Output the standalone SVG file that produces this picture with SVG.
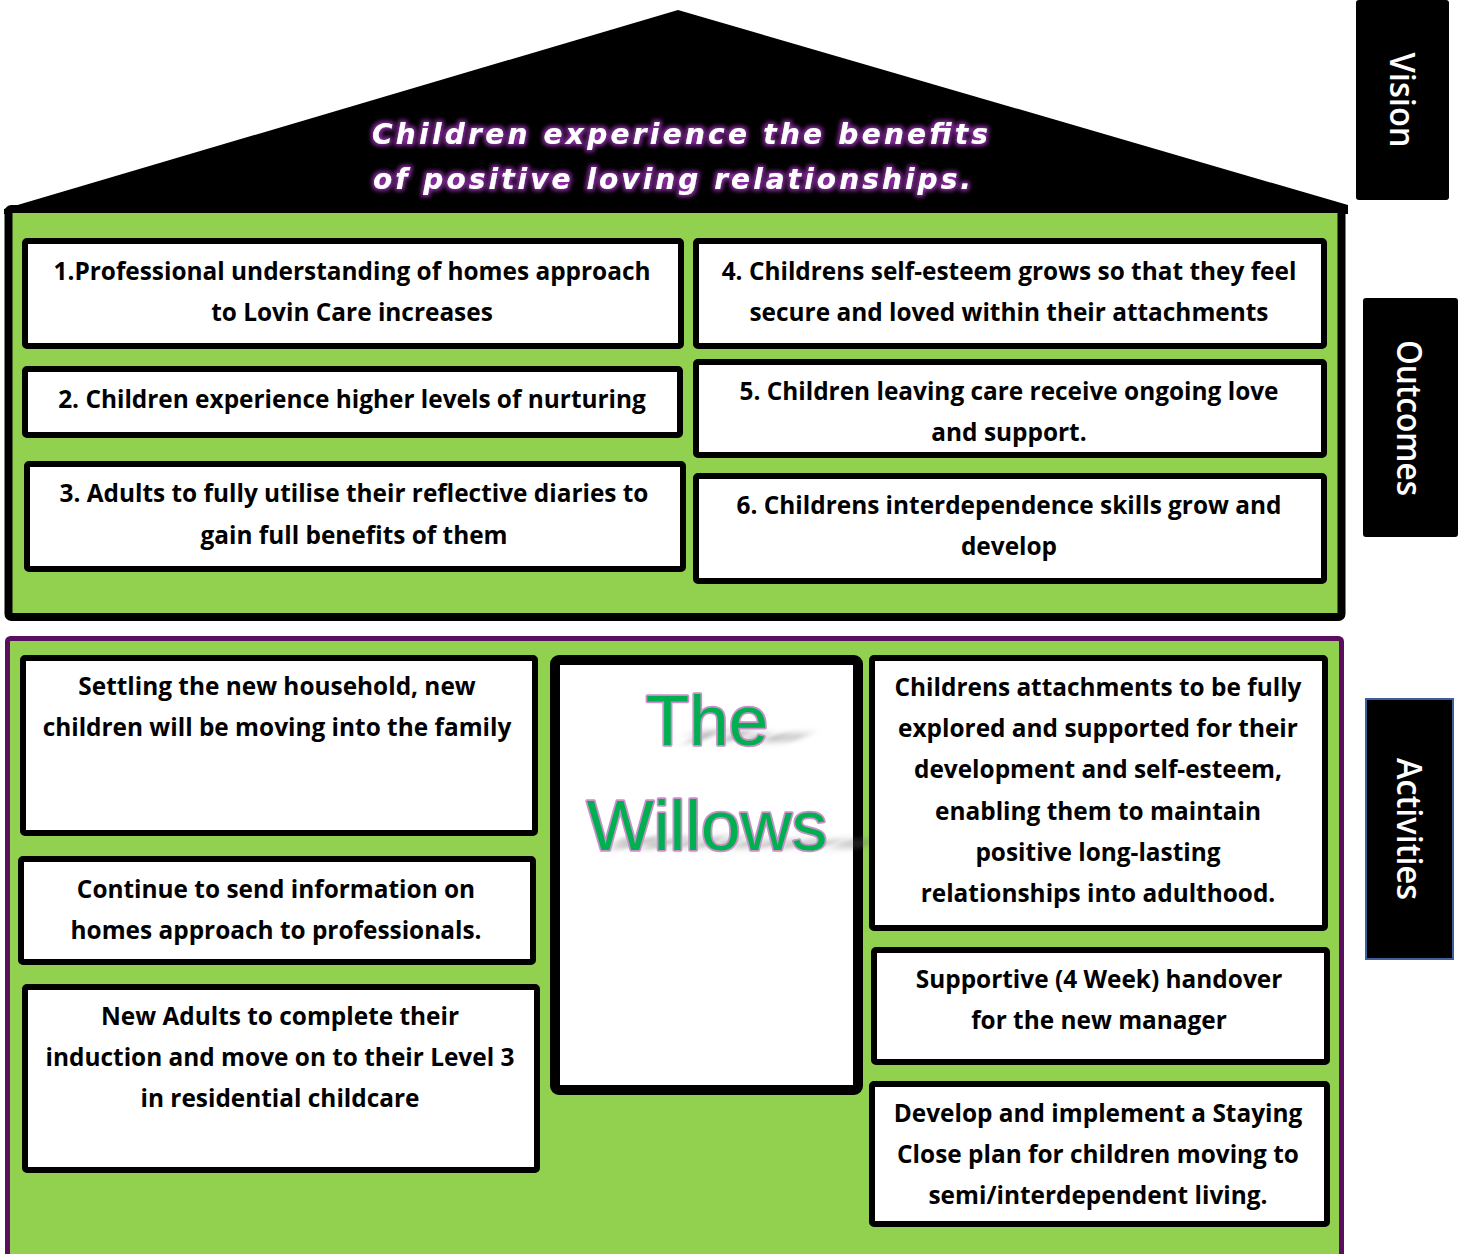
<svg xmlns="http://www.w3.org/2000/svg" width="1459" height="1254" viewBox="0 0 1459 1254">
<defs>
<style>
.box{fill:#fff;stroke:#000;stroke-width:6}
.t{font-family:"Open Sans","Liberation Sans",Arial,sans-serif;font-weight:bold;font-size:24.4px;fill:#000;text-anchor:middle}
.side{fill:#000}
.st{font-family:"Open Sans","Liberation Sans",sans-serif;font-weight:600;font-size:34px;fill:#fff;text-anchor:middle}
.vis{font-family:"DejaVu Sans",sans-serif;font-weight:bold;font-style:italic;font-size:28px;fill:#fff;text-anchor:middle}
.wil{font-family:"Liberation Sans",Arial,sans-serif;font-size:71px;fill:#00B050;stroke:#C990C9;stroke-width:3.5;paint-order:stroke;stroke-linejoin:round;text-anchor:middle}
.sh{font-family:"Liberation Sans",Arial,sans-serif;font-weight:bold;font-size:71px;fill:#666;opacity:0.6;text-anchor:middle}
</style>
<filter id="glow" x="-10%" y="-40%" width="120%" height="180%">
<feMorphology in="SourceAlpha" operator="dilate" radius="1.5" result="d"/>
<feGaussianBlur in="d" stdDeviation="2" result="b"/>
<feFlood flood-color="#8A2BA0"/>
<feComposite in2="b" operator="in" result="g"/>
<feMerge><feMergeNode in="g"/><feMergeNode in="SourceGraphic"/></feMerge>
</filter>
<filter id="blur" x="-30%" y="-150%" width="160%" height="400%">
<feGaussianBlur stdDeviation="6 14"/>
</filter>
</defs>

<g id="roof">
<polygon points="4,209 678,10 1348,205 1348,214 4,214" fill="#000"/>
<text class="vis" x="680" y="144" textLength="616" lengthAdjust="spacing" filter="url(#glow)">Children experience the benefits</text>
<text class="vis" x="672" y="189" textLength="598" lengthAdjust="spacing" filter="url(#glow)">of positive loving relationships.</text>
</g>

<g id="outcomes">
<rect x="8.5" y="209" width="1333" height="408" fill="#92D050" stroke="#000" stroke-width="8" rx="3"/>
</g>

<g id="o1">
<rect class="box" x="25" y="241" width="656" height="105" rx="2"/>
<text class="t" x="352" y="280">1.Professional understanding of homes approach</text>
<text class="t" x="352" y="321">to Lovin Care increases</text>
</g>
<g id="o2">
<rect class="box" x="25" y="369" width="655" height="66" rx="2"/>
<text class="t" x="352" y="408">2. Children experience higher levels of nurturing</text>
</g>
<g id="o3">
<rect class="box" x="27" y="464" width="656" height="105" rx="2"/>
<text class="t" x="354" y="502">3. Adults to fully utilise their reflective diaries to</text>
<text class="t" x="354" y="544">gain full benefits of them</text>
</g>
<g id="o4">
<rect class="box" x="696" y="241" width="628" height="105" rx="2"/>
<text class="t" x="1009" y="280">4. Childrens self-esteem grows so that they feel</text>
<text class="t" x="1009" y="321">secure and loved within their attachments</text>
</g>
<g id="o5">
<rect class="box" x="696" y="362" width="628" height="93" rx="2"/>
<text class="t" x="1009" y="400">5. Children leaving care receive ongoing love</text>
<text class="t" x="1009" y="441">and support.</text>
</g>
<g id="o6">
<rect class="box" x="696" y="476" width="628" height="105" rx="2"/>
<text class="t" x="1009" y="514">6. Childrens interdependence skills grow and</text>
<text class="t" x="1009" y="555">develop</text>
</g>

<g id="activities">
<rect x="7.5" y="638.5" width="1334" height="630" fill="#92D050" stroke="#5A0F5E" stroke-width="5" rx="3"/>
</g>

<g id="a1">
<rect class="box" x="23" y="658" width="512" height="175" rx="2"/>
<text class="t" x="277" y="695">Settling the new household, new</text>
<text class="t" x="277" y="736">children will be moving into the family</text>
</g>
<g id="a2">
<rect class="box" x="21" y="859" width="512" height="103" rx="2"/>
<text class="t" x="276" y="898">Continue to send information on</text>
<text class="t" x="276" y="939">homes approach to professionals.</text>
</g>
<g id="a3">
<rect class="box" x="25" y="987" width="512" height="183" rx="2"/>
<text class="t" x="280" y="1025">New Adults to complete their</text>
<text class="t" x="280" y="1066">induction and move on to their Level 3</text>
<text class="t" x="280" y="1107">in residential childcare</text>
</g>

<g id="willows">
<rect x="555" y="660" width="303" height="430" fill="#fff" stroke="#000" stroke-width="10" rx="4"/>
<text class="sh" filter="url(#blur)" transform="translate(735,742) skewX(-60) scale(1,0.22)" x="0" y="0">The</text>
<text class="sh" filter="url(#blur)" transform="translate(735,848) skewX(-60) scale(1,0.22)" x="0" y="0">Willows</text>
<text class="wil" x="707" y="745">The</text>
<text class="wil" x="707" y="850">Willows</text>
</g>

<g id="a4">
<rect class="box" x="872" y="658" width="453" height="270" rx="2"/>
<text class="t" x="1098" y="696">Childrens attachments to be fully</text>
<text class="t" x="1098" y="737">explored and supported for their</text>
<text class="t" x="1098" y="778">development and self-esteem,</text>
<text class="t" x="1098" y="820">enabling them to maintain</text>
<text class="t" x="1098" y="861">positive long-lasting</text>
<text class="t" x="1098" y="902">relationships into adulthood.</text>
</g>
<g id="a5">
<rect class="box" x="874" y="950" width="453" height="112" rx="2"/>
<text class="t" x="1099" y="988">Supportive (4 Week) handover</text>
<text class="t" x="1099" y="1029">for the new manager</text>
</g>
<g id="a6">
<rect class="box" x="872" y="1084" width="455" height="140" rx="2"/>
<text class="t" x="1098" y="1122">Develop and implement a Staying</text>
<text class="t" x="1098" y="1163">Close plan for children moving to</text>
<text class="t" x="1098" y="1204">semi/interdependent living.</text>
</g>

<g id="vision-label">
<rect class="side" x="1356" y="0" width="93" height="200" rx="3"/>
<text class="st" transform="translate(1390,100) rotate(90)" x="0" y="0" textLength="95" lengthAdjust="spacingAndGlyphs">Vision</text>
</g>
<g id="outcomes-label">
<rect class="side" x="1363" y="298" width="95" height="239" rx="3"/>
<text class="st" transform="translate(1397,418) rotate(90)" x="0" y="0" textLength="156" lengthAdjust="spacingAndGlyphs">Outcomes</text>
</g>
<g id="activities-label">
<rect class="side" x="1366" y="699" width="87" height="260" stroke="#3F5F9F" stroke-width="2"/>
<text class="st" transform="translate(1397,829) rotate(90)" x="0" y="0" textLength="142" lengthAdjust="spacingAndGlyphs">Activities</text>
</g>
</svg>
